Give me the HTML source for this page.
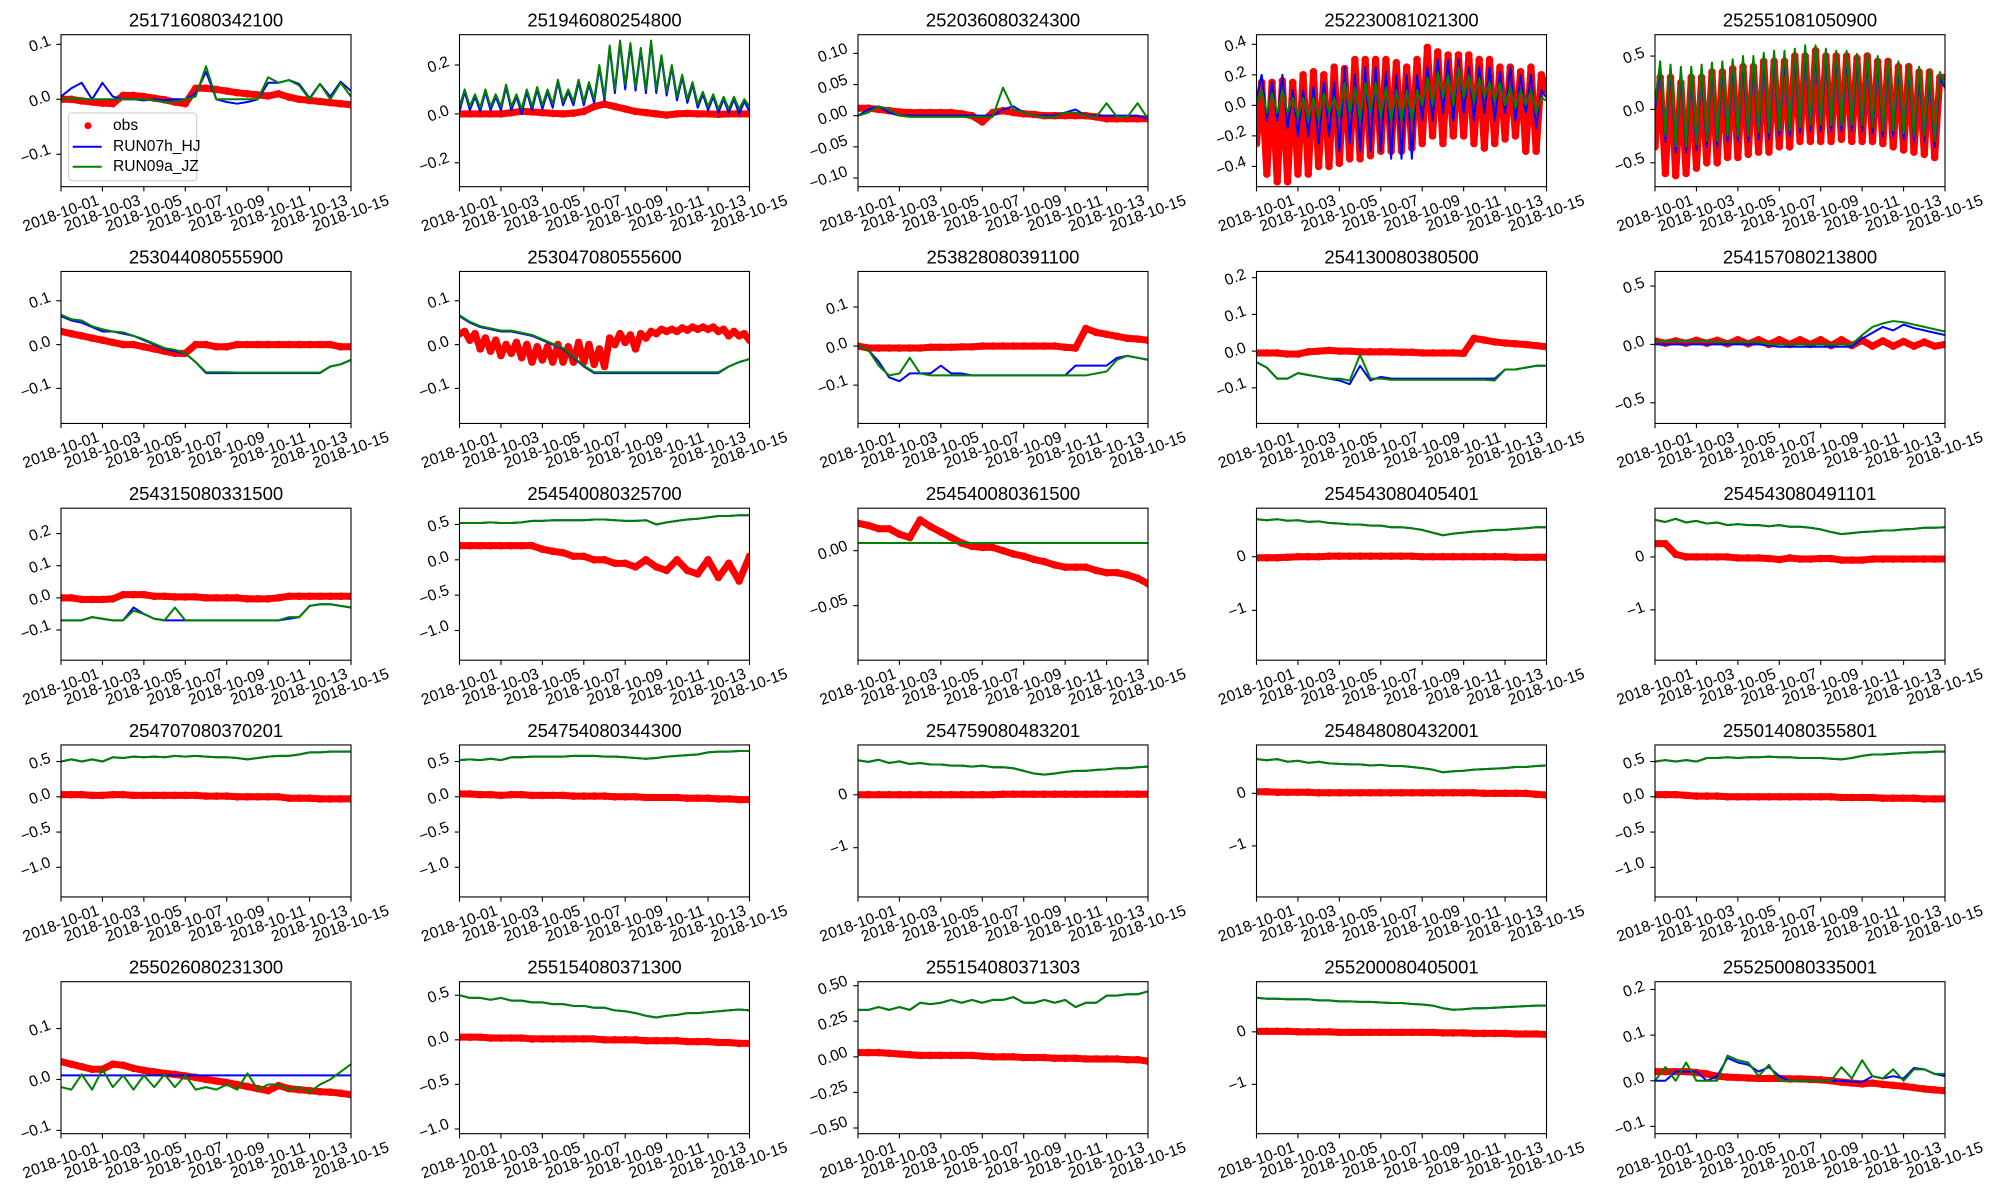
<!DOCTYPE html>
<html><head><meta charset="utf-8">
<style>
html,body{margin:0;padding:0;background:#fff;}
svg{display:block;font-family:"Liberation Sans","DejaVu Sans",sans-serif;}
</style></head>
<body>
<svg id="fig" width="2000" height="1200" viewBox="0 0 2000 1200" xmlns="http://www.w3.org/2000/svg"></svg>
<script>
const titles=["251716080342100","251946080254800","252036080324300","252230081021300","252551081050900",
"253044080555900","253047080555600","253828080391100","254130080380500","254157080213800",
"254315080331500","254540080325700","254540080361500","254543080405401","254543080491101",
"254707080370201","254754080344300","254759080483201","254848080432001","255014080355801",
"255026080231300","255154080371300","255154080371303","255200080405001","255250080335001"];
const yMins=[-0.159,-0.298,-0.114,-0.533,-0.724,-0.18,-0.18,-0.198,-0.197,-0.677,-0.194,-1.42,-0.0997,-1.93,-1.95,-1.42,-1.42,-1.93,-1.97,-1.42,-0.1065,-1.053,-0.54,-1.94,-0.116];
const yMaxs=[0.1175,0.324,0.13,0.463,0.70,0.167,0.167,0.191,0.217,0.625,0.279,0.73,0.0387,0.905,0.92,0.735,0.735,0.94,0.92,0.735,0.192,0.652,0.528,0.955,0.217];
const yTickLabels=[
["0.1","0.0","−0.1"],["0.2","0.0","−0.2"],["0.10","0.05","0.00","−0.05","−0.10"],["0.4","0.2","0.0","−0.2","−0.4"],["0.5","0.0","−0.5"],
["0.1","0.0","−0.1"],["0.1","0.0","−0.1"],["0.1","0.0","−0.1"],["0.2","0.1","0.0","−0.1"],["0.5","0.0","−0.5"],
["0.2","0.1","0.0","−0.1"],["0.5","0.0","−0.5","−1.0"],["0.00","−0.05"],["0","−1"],["0","−1"],
["0.5","0.0","−0.5","−1.0"],["0.5","0.0","−0.5","−1.0"],["0","−1"],["0","−1"],["0.5","0.0","−0.5","−1.0"],
["0.1","0.0","−0.1"],["0.5","0.0","−0.5","−1.0"],["0.50","0.25","0.00","−0.25","−0.50"],["0","−1"],["0.2","0.1","0.0","−0.1"]];
const xTickLabels=["2018-10-01","2018-10-03","2018-10-05","2018-10-07","2018-10-09","2018-10-11","2018-10-13","2018-10-15"];
const xTickDays=[0,2,4,6,8,10,12,14];
const daySpan=14;

const obsData=[
[0,0,-0.003,-0.005,-0.007,-0.008,0.007,0.007,0.005,0.002,-0.001,-0.005,-0.008,0.02,0.02,0.018,0.015,0.012,0.01,0.008,0.006,0.01,0.004,0,-0.002,-0.004,-0.006,-0.008,-0.01],
[0,0,0,0,0,0.005,0.01,0.008,0.005,0.002,0,0.003,0.01,0.03,0.04,0.03,0.02,0.01,0.005,0,-0.005,0,0.002,0,0,-0.002,0,0,0],
[0.012,0.012,0.01,0.008,0.006,0.005,0.005,0.005,0.005,0.005,0.003,0,-0.01,0.005,0.008,0.005,0.003,0.002,0,0,0,0,0,-0.002,-0.005,-0.005,-0.005,-0.005,-0.005],
[-0.25,0.15,-0.45,0.15,-0.5,0.16,-0.5,0.15,-0.45,0.2,-0.45,0.22,-0.4,0.2,-0.4,0.25,-0.38,0.24,-0.35,0.3,-0.35,0.3,-0.33,0.3,-0.3,0.3,-0.3,0.28,-0.3,0.25,-0.28,0.3,-0.25,0.38,-0.2,0.35,-0.25,0.33,-0.2,0.33,-0.2,0.33,-0.25,0.3,-0.28,0.3,-0.25,0.25,-0.22,0.25,-0.2,0.22,-0.3,0.25,-0.3,0.2,0.1],
[-0.35,0.3,-0.6,0.3,-0.62,0.25,-0.6,0.3,-0.55,0.3,-0.5,0.35,-0.5,0.35,-0.45,0.38,-0.45,0.4,-0.42,0.4,-0.4,0.45,-0.4,0.45,-0.35,0.45,-0.35,0.5,-0.3,0.5,-0.3,0.55,-0.3,0.5,-0.3,0.5,-0.28,0.5,-0.3,0.48,-0.3,0.5,-0.3,0.45,-0.32,0.45,-0.35,0.4,-0.38,0.4,-0.4,0.35,-0.42,0.35,-0.45,0.3,0.3],
[0.03,0.025,0.02,0.015,0.01,0.005,0,0,-0.005,-0.01,-0.015,-0.02,-0.02,0,0,-0.005,-0.005,0,0,0,0,0,0,0,0,0,0,-0.005,-0.005],
[0.025,0.03,0.01,0.025,-0.01,0.015,-0.015,0.01,-0.025,0,-0.02,0.005,-0.03,0,-0.04,-0.005,-0.035,-0.005,-0.04,0,-0.04,-0.005,-0.04,0.005,-0.04,0,-0.045,-0.01,-0.05,0.015,0,0.025,0.005,0.022,-0.01,0.025,0.015,0.03,0.025,0.035,0.03,0.035,0.03,0.038,0.033,0.04,0.035,0.04,0.035,0.04,0.03,0.035,0.02,0.03,0.02,0.025,0.01],
[0,-0.005,-0.005,-0.005,-0.005,-0.005,-0.005,-0.003,-0.003,-0.003,-0.002,-0.002,0,0,0,0,0,0,0,0,-0.003,-0.005,0.045,0.035,0.03,0.025,0.02,0.018,0.015],
[-0.005,-0.005,-0.005,-0.008,-0.008,-0.002,0,0.002,0,0,-0.002,-0.002,-0.002,-0.002,-0.003,-0.003,-0.005,-0.005,-0.005,-0.005,-0.006,0.035,0.03,0.025,0.022,0.02,0.018,0.015,0.012],
[0.03,0.01,0.03,0.01,0.035,0.01,0.035,0.005,0.04,0.005,0.04,0,0.04,0,0.04,0,0.04,-0.01,0.04,-0.01,0.035,-0.015,0.03,-0.015,0.025,-0.015,0.02,-0.015,0],
[0,0,-0.005,-0.005,-0.005,-0.003,0.01,0.01,0.01,0.005,0.005,0.003,0.003,0.003,0,0,0,0,-0.003,-0.003,-0.003,0,0.005,0.005,0.005,0.005,0.005,0.005,0.005],
[0.2,0.2,0.2,0.2,0.2,0.2,0.2,0.2,0.15,0.12,0.1,0.05,0.05,0,0,-0.05,-0.05,-0.1,0,-0.1,-0.15,0,-0.15,-0.2,0,-0.25,-0.05,-0.3,0.05],
[0.025,0.023,0.02,0.02,0.015,0.012,0.028,0.022,0.017,0.012,0.007,0.004,0.003,0.003,0,-0.003,-0.005,-0.008,-0.01,-0.013,-0.015,-0.015,-0.015,-0.018,-0.02,-0.02,-0.022,-0.025,-0.03],
[-0.02,-0.02,-0.02,-0.01,0,0,0,0.01,0.01,0.01,0.01,0.01,0.01,0.01,0.01,0.01,0,0,0,0,0,0,0,0,0,-0.01,-0.01,-0.01,-0.01],
[0.25,0.25,0.05,0,0,0,0,0,-0.02,-0.02,-0.02,-0.03,-0.05,-0.02,-0.04,-0.04,-0.03,-0.03,-0.06,-0.06,-0.06,-0.04,-0.04,-0.04,-0.04,-0.04,-0.04,-0.04,-0.04],
[0.03,0.03,0.03,0.02,0.02,0.03,0.03,0.02,0.02,0.02,0.02,0.02,0.02,0.02,0.01,0.01,0.01,0,0,0,0,0,-0.02,-0.02,-0.02,-0.03,-0.03,-0.03,-0.03],
[0.04,0.04,0.03,0.03,0.02,0.03,0.03,0.02,0.02,0.02,0.02,0.01,0.01,0.01,0.01,0,0,0,-0.01,-0.01,-0.01,-0.01,-0.02,-0.02,-0.02,-0.03,-0.03,-0.04,-0.04],
[0,0,0,0,0,0,0,0,0,0,0,0,0,0,0.01,0.01,0.01,0.01,0.01,0.01,0.01,0.01,0.01,0.01,0.01,0.01,0.01,0.01,0.01],
[0.03,0.03,0.02,0.02,0.02,0.02,0.01,0.01,0.01,0.01,0.01,0.01,0.01,0.01,0.01,0.01,0.01,0.01,0.01,0.01,0.01,0.01,0,0,0,0,0,-0.02,-0.03],
[0.03,0.03,0.03,0.02,0.01,0.01,0.01,0,0,0,0,0,0,0,0,0,0,0,-0.01,-0.01,-0.01,-0.01,-0.02,-0.02,-0.02,-0.02,-0.03,-0.03,-0.03],
[0.035,0.03,0.025,0.02,0.02,0.03,0.028,0.022,0.018,0.015,0.012,0.01,0.007,0.004,0,-0.003,-0.006,-0.01,-0.014,-0.018,-0.022,-0.012,-0.018,-0.02,-0.022,-0.024,-0.025,-0.027,-0.03],
[0.03,0.03,0.03,0.02,0.02,0.02,0.02,0.01,0.01,0.01,0.01,0.01,0.01,0.01,0,0,0,0,-0.01,-0.01,-0.01,-0.01,-0.02,-0.02,-0.02,-0.03,-0.03,-0.04,-0.04],
[0.03,0.03,0.03,0.025,0.02,0.015,0.01,0.01,0.01,0.01,0.01,0.01,0.005,0,0,0,-0.005,-0.005,-0.005,-0.01,-0.01,-0.01,-0.015,-0.015,-0.015,-0.015,-0.02,-0.02,-0.03],
[0.01,0.01,0.01,0.01,0,0,0,0,-0.01,-0.01,-0.01,-0.01,-0.01,-0.01,-0.01,-0.01,-0.01,-0.01,-0.02,-0.02,-0.02,-0.03,-0.03,-0.03,-0.03,-0.04,-0.04,-0.04,-0.05],
[0.02,0.02,0.02,0.02,0.018,0.015,0.01,0.008,0.007,0.006,0.005,0.005,0.005,0.004,0.004,0.003,0.002,0,-0.003,-0.005,-0.007,-0.005,-0.008,-0.01,-0.012,-0.015,-0.018,-0.02,-0.022]];

const run09Data=[
[0,0.002,0,0,0,0,0,0,0,-0.002,-0.005,-0.005,0,0.005,0.06,0,0,0,0,0,0.04,0.03,0.035,0.025,0,0.028,0,0.03,0.005],
[0.03,0.1,0.03,0.08,0.025,0.1,0.03,0.08,0.03,0.12,0.03,0.08,0.02,0.1,0.03,0.11,0.035,0.1,0.04,0.14,0.05,0.1,0.05,0.14,0.05,0.13,0.06,0.2,0.07,0.28,0.1,0.3,0.12,0.29,0.11,0.27,0.1,0.3,0.1,0.24,0.09,0.2,0.07,0.16,0.06,0.13,0.04,0.09,0.03,0.08,0.02,0.07,0.02,0.07,0.02,0.06,0.03],
[0,0.005,0.015,0.01,0,-0.002,-0.002,-0.002,-0.002,-0.002,-0.002,-0.002,-0.002,-0.002,0.045,0.01,0.005,0,-0.002,-0.002,0.005,0.005,0,-0.002,0.02,-0.002,-0.002,0.02,-0.005],
[0,0.1,-0.05,0.08,-0.05,0.1,-0.05,0.05,-0.08,0.05,-0.1,0.05,-0.1,0.08,-0.05,0.05,-0.08,0.15,-0.05,0.12,-0.1,0.15,-0.05,0.15,-0.08,0.12,-0.1,0.1,-0.1,0.1,-0.1,0.1,0,0.18,0,0.22,0.05,0.2,0,0.25,0.05,0.2,0.02,0.18,0.05,0.15,0.02,0.15,0,0.12,-0.02,0.1,0,0.1,-0.05,0.05,0.03],
[0.05,0.45,-0.25,0.42,-0.35,0.4,-0.35,0.4,-0.33,0.42,-0.3,0.44,-0.3,0.45,-0.25,0.47,-0.25,0.5,-0.25,0.5,-0.22,0.53,-0.22,0.55,-0.2,0.55,-0.2,0.57,-0.17,0.6,-0.15,0.6,-0.15,0.57,-0.15,0.55,-0.15,0.55,-0.15,0.52,-0.15,0.52,-0.17,0.5,-0.2,0.47,-0.2,0.45,-0.23,0.42,-0.25,0.4,-0.25,0.37,-0.3,0.35,0.22],
[0.068,0.058,0.055,0.042,0.035,0.03,0.028,0.02,0.012,0.002,-0.008,-0.012,-0.02,-0.04,-0.063,-0.063,-0.063,-0.064,-0.064,-0.064,-0.064,-0.064,-0.064,-0.064,-0.064,-0.064,-0.05,-0.045,-0.035],
[0.067,0.052,0.042,0.037,0.032,0.032,0.027,0.022,0.012,0.002,-0.008,-0.028,-0.048,-0.063,-0.063,-0.063,-0.063,-0.063,-0.063,-0.063,-0.063,-0.063,-0.063,-0.063,-0.063,-0.063,-0.05,-0.04,-0.033],
[0,-0.01,-0.05,-0.075,-0.07,-0.03,-0.07,-0.075,-0.075,-0.075,-0.075,-0.075,-0.075,-0.075,-0.075,-0.075,-0.075,-0.075,-0.075,-0.075,-0.075,-0.075,-0.075,-0.07,-0.065,-0.035,-0.025,-0.03,-0.035],
[-0.03,-0.045,-0.075,-0.075,-0.06,-0.065,-0.07,-0.075,-0.075,-0.08,-0.01,-0.075,-0.075,-0.078,-0.078,-0.078,-0.078,-0.078,-0.078,-0.078,-0.078,-0.078,-0.078,-0.08,-0.05,-0.05,-0.045,-0.04,-0.04],
[0.02,0.03,0.03,0.03,0.03,0.03,0.02,0.02,0.02,0.02,0.02,0,0,0,0,0,0,0,0,0,0.08,0.15,0.18,0.2,0.19,0.17,0.15,0.13,0.11],
[-0.07,-0.07,-0.07,-0.06,-0.065,-0.07,-0.07,-0.04,-0.05,-0.065,-0.07,-0.03,-0.07,-0.07,-0.07,-0.07,-0.07,-0.07,-0.07,-0.07,-0.07,-0.07,-0.06,-0.06,-0.025,-0.02,-0.02,-0.025,-0.03],
[0.52,0.52,0.52,0.53,0.52,0.52,0.53,0.55,0.55,0.56,0.56,0.56,0.56,0.57,0.57,0.56,0.55,0.55,0.56,0.5,0.53,0.55,0.57,0.58,0.6,0.62,0.62,0.63,0.63],
[0.007,0.007],
[0.7,0.68,0.7,0.67,0.68,0.65,0.66,0.63,0.62,0.6,0.6,0.58,0.58,0.55,0.55,0.53,0.5,0.45,0.4,0.43,0.45,0.47,0.48,0.5,0.5,0.52,0.53,0.55,0.55],
[0.7,0.66,0.72,0.65,0.68,0.63,0.65,0.6,0.62,0.6,0.6,0.58,0.6,0.57,0.57,0.55,0.52,0.47,0.43,0.45,0.47,0.48,0.5,0.5,0.52,0.53,0.55,0.55,0.56],
[0.5,0.53,0.5,0.53,0.5,0.56,0.55,0.57,0.56,0.57,0.56,0.58,0.57,0.58,0.57,0.56,0.56,0.55,0.53,0.55,0.57,0.58,0.58,0.6,0.63,0.63,0.64,0.64,0.64],
[0.52,0.53,0.52,0.54,0.52,0.56,0.56,0.57,0.57,0.57,0.57,0.58,0.58,0.58,0.57,0.57,0.56,0.55,0.54,0.55,0.57,0.58,0.59,0.6,0.63,0.64,0.64,0.65,0.65],
[0.65,0.62,0.66,0.6,0.63,0.58,0.6,0.57,0.57,0.55,0.55,0.53,0.55,0.52,0.52,0.5,0.45,0.4,0.38,0.4,0.43,0.45,0.45,0.47,0.48,0.5,0.5,0.52,0.53],
[0.65,0.63,0.65,0.6,0.62,0.58,0.6,0.57,0.56,0.55,0.55,0.53,0.54,0.52,0.52,0.5,0.48,0.45,0.4,0.42,0.43,0.45,0.46,0.47,0.48,0.5,0.5,0.52,0.53],
[0.5,0.52,0.5,0.52,0.5,0.55,0.55,0.56,0.55,0.56,0.56,0.57,0.56,0.56,0.55,0.55,0.55,0.54,0.53,0.55,0.58,0.6,0.6,0.61,0.62,0.63,0.63,0.64,0.64],
[-0.015,-0.02,0.01,-0.02,0.02,-0.015,0.008,-0.02,0.008,-0.015,0.01,-0.015,0.008,-0.02,-0.015,-0.02,-0.01,-0.02,0.012,-0.02,-0.01,-0.01,-0.02,-0.015,-0.025,-0.01,0,0.015,0.03],
[0.5,0.47,0.47,0.45,0.47,0.44,0.44,0.42,0.42,0.4,0.4,0.38,0.38,0.36,0.36,0.33,0.32,0.3,0.27,0.25,0.27,0.28,0.3,0.3,0.31,0.32,0.33,0.34,0.33],
[0.33,0.33,0.35,0.33,0.35,0.33,0.38,0.37,0.38,0.4,0.38,0.4,0.38,0.4,0.4,0.42,0.38,0.38,0.4,0.38,0.4,0.35,0.38,0.38,0.43,0.43,0.44,0.44,0.46],
[0.65,0.63,0.63,0.62,0.62,0.62,0.6,0.6,0.58,0.58,0.57,0.57,0.56,0.55,0.55,0.53,0.52,0.5,0.45,0.42,0.43,0.45,0.45,0.46,0.47,0.48,0.49,0.5,0.5],
[0,0.03,0,0.04,0,0,0,0.055,0.045,0.04,0.01,0.035,0,0,0,0,0,0,0.03,0.005,0.045,0.01,0.005,0.025,0,0.025,0.025,0.015,0.015]];

const run07Data=[
[0.005,0.02,0.03,0,0.03,0.005,0,0,-0.002,0,-0.002,0,0,0.01,0.05,0,-0.005,-0.008,-0.005,0,0.03,0.03,0.035,0.028,0.002,0.028,0.005,0.032,0.015],
[0.01,0.09,0.015,0.07,0.01,0.09,0.015,0.07,0.015,0.11,0.015,0.07,0,0.09,0.015,0.1,0.02,0.09,0.025,0.13,0.035,0.09,0.035,0.13,0.035,0.12,0.045,0.19,0.055,0.27,0.085,0.29,0.1,0.28,0.095,0.26,0.085,0.29,0.085,0.23,0.075,0.19,0.055,0.15,0.045,0.12,0.025,0.08,0.015,0.07,0.005,0.06,0.005,0.06,0,0.05,0.01],
[0,0.01,0.015,0.005,0,0,0,0,0,0,0,0,0,0,0.01,0.015,0.005,0,0,0,0.005,0.01,0,0,0,0,0,0,-0.005],
[0.05,0.2,-0.1,0.15,-0.1,0.2,-0.15,0.1,-0.2,0.1,-0.2,0.12,-0.25,0.15,-0.2,0.15,-0.3,0.25,-0.25,0.2,-0.3,0.25,-0.3,0.25,-0.3,0.22,-0.35,0.2,-0.35,0.2,-0.35,0.2,-0.1,0.25,-0.1,0.3,-0.05,0.3,-0.1,0.3,-0.05,0.25,-0.1,0.25,-0.05,0.25,-0.1,0.22,-0.05,0.25,-0.1,0.2,-0.05,0.2,-0.15,0.1,0.05],
[0,0.4,-0.3,0.38,-0.4,0.35,-0.4,0.35,-0.38,0.38,-0.35,0.4,-0.35,0.4,-0.3,0.42,-0.3,0.45,-0.3,0.45,-0.28,0.48,-0.28,0.5,-0.25,0.5,-0.25,0.52,-0.22,0.55,-0.2,0.55,-0.2,0.52,-0.2,0.5,-0.2,0.5,-0.2,0.48,-0.2,0.48,-0.22,0.45,-0.25,0.42,-0.25,0.4,-0.28,0.38,-0.3,0.35,-0.3,0.32,-0.35,0.3,0.2],
[0.065,0.055,0.05,0.04,0.03,0.03,0.025,0.02,0.01,0,-0.01,-0.015,-0.02,-0.04,-0.065,-0.065,-0.065,-0.065,-0.065,-0.065,-0.065,-0.065,-0.065,-0.065,-0.065,-0.065,-0.05,-0.045,-0.035],
[0.065,0.05,0.04,0.035,0.03,0.03,0.025,0.02,0.01,0,-0.01,-0.03,-0.05,-0.065,-0.065,-0.065,-0.065,-0.065,-0.065,-0.065,-0.065,-0.065,-0.065,-0.065,-0.065,-0.065,-0.05,-0.04,-0.033],
[0,-0.01,-0.04,-0.08,-0.09,-0.07,-0.07,-0.07,-0.05,-0.07,-0.07,-0.075,-0.075,-0.075,-0.075,-0.075,-0.075,-0.075,-0.075,-0.075,-0.075,-0.05,-0.05,-0.05,-0.05,-0.03,-0.025,-0.03,-0.035],
[-0.03,-0.045,-0.075,-0.075,-0.06,-0.065,-0.07,-0.075,-0.08,-0.09,-0.04,-0.08,-0.07,-0.075,-0.075,-0.075,-0.075,-0.075,-0.075,-0.075,-0.075,-0.075,-0.075,-0.075,-0.05,-0.05,-0.045,-0.04,-0.04],
[0,0,0,0,0,0,0,0,0,0,0,-0.01,-0.02,-0.02,-0.02,-0.02,-0.02,-0.02,-0.02,-0.02,0.05,0.1,0.15,0.12,0.17,0.14,0.12,0.1,0.08],
[-0.07,-0.07,-0.07,-0.06,-0.065,-0.07,-0.07,-0.03,-0.05,-0.065,-0.07,-0.07,-0.07,-0.07,-0.07,-0.07,-0.07,-0.07,-0.07,-0.07,-0.07,-0.07,-0.065,-0.06,-0.025,-0.02,-0.02,-0.025,-0.03],
null,[0.007,0.007],null,null,null,null,null,null,null,
[0.008,0.008],
null,null,null,
[0,0,0.02,0.02,0.02,0,0.01,0.05,0.04,0.035,0.02,0.03,0.01,0,0,0,0,0,0,-0.002,-0.003,0.01,0.005,0.01,0.005,0.028,0.025,0.015,0.01]];
// panels where the two model runs coincide share the same values
for(let i=0;i<run07Data.length;i++){ if(run07Data[i]===null) run07Data[i]=run09Data[i]; }

const NS="http://www.w3.org/2000/svg";
const svg=document.getElementById('fig');
function mk(tag,attrs,parent){const e=document.createElementNS(NS,tag);for(const k in attrs)e.setAttribute(k,attrs[k]);(parent||svg).appendChild(e);return e;}
const FS=15.6, AX_W=290, AX_H=152, LEFT0=61, TOP0=34.7, DX=398.5, DY=236.75;
function textW(s){let w=0;for(const c of s){if(c==='.')w+=0.278;else if(c==='−'||c==='-')w+=(c==='−'?0.584:0.333);else w+=0.556;}return w*FS;}

for(let p=0;p<25;p++){
  const col=p%5,row=Math.floor(p/5);
  const L=LEFT0+col*DX,T=TOP0+row*DY,R=L+AX_W,B=T+AX_H;
  const y0=yMins[p],y1=yMaxs[p];
  const xs=d=>L+d/daySpan*AX_W;
  const ys=v=>B-(v-y0)/(y1-y0)*AX_H;
  const g=mk('g',{});
  
  
  const clipId='clip'+p;
  const cp=mk('clipPath',{id:clipId},g);mk('rect',{x:L,y:T,width:AX_W,height:AX_H},cp);
  const plot=mk('g',{'clip-path':'url(#'+clipId+')'},g);
  
  
  const pts=arr=>arr.map((v,i)=>[xs(i*daySpan/(arr.length-1)),ys(v)]);
  const ob=pts(obsData[p]);
  const obsLine=mk('polyline',{points:ob.map(q=>q.join(',')).join(' '),fill:'none',stroke:'#ff0000','stroke-width':7,'stroke-linejoin':'round','stroke-linecap':'round'},plot);
  
  
  ob.forEach(q=>{const c=mk('circle',{cx:q[0],cy:q[1],r:3.8,fill:'#ff0000'},plot);
    
    });
  const b=mk('polyline',{points:pts(run07Data[p]).map(q=>q.join(',')).join(' '),fill:'none',stroke:'#0000ff','stroke-width':2,'stroke-linejoin':'round'},plot);
  
  
  const gr=mk('polyline',{points:pts(run09Data[p]).map(q=>q.join(',')).join(' '),fill:'none',stroke:'#008000','stroke-width':2,'stroke-linejoin':'round'},plot);
  
  
  const fr=mk('rect',{x:L,y:T,width:AX_W,height:AX_H,fill:'none',stroke:'#000','stroke-width':1.1},g);
  
  
  const tt=mk('text',{x:L+AX_W/2,y:T-8,'text-anchor':'middle','font-size':18.5,fill:'#000'},g);
  tt.textContent=titles[p];
  
  
  xTickDays.forEach((d,i)=>{
    const x=xs(d);
    mk('line',{x1:x,y1:B,x2:x,y2:B+4.7,stroke:'#000','stroke-width':1.1},g);
    const t=mk('text',{'text-anchor':'middle','dominant-baseline':'central','font-size':FS,fill:'#000',transform:'translate('+x+','+(B+27)+') rotate(-20)'},g);
    t.textContent=xTickLabels[i];
    
    
  });
  yTickLabels[p].forEach(lbl=>{
    const v=parseFloat(lbl.replace('−','-'));
    const y=ys(v);
    mk('line',{x1:L-4.7,y1:y,x2:L,y2:y,stroke:'#000','stroke-width':1.1},g);
    const w=textW(lbl);
    const bw=w*0.94+FS*0.37;
    const cx=L-8-bw/2;
    const t=mk('text',{'text-anchor':'middle','dominant-baseline':'central','font-size':FS,fill:'#000',transform:'translate('+cx+','+y+') rotate(-20)'},g);
    t.textContent=lbl;
    
    
  });
  if(p===0){
    const lg=mk('g',{},g);
    
    
    mk('rect',{x:68.7,y:113,width:128,height:67.7,rx:3,fill:'#fff','fill-opacity':0.8,stroke:'#cccccc','stroke-width':1},lg);
    const entries=[['obs','obs'],['RUN07h_HJ','#0000ff'],['RUN09a_JZ','#008000']];
    const ey=[125.7,146.7,166.7];
    entries.forEach((e,i)=>{
      const eg=mk('g',{},lg);
      
      
      if(e[1]==='obs') mk('circle',{cx:88,cy:ey[i],r:3.5,fill:'#ff0000'},eg);
      else mk('line',{x1:72.7,y1:ey[i],x2:101.7,y2:ey[i],stroke:e[1],'stroke-width':2},eg);
      const t=mk('text',{x:113,y:ey[i],'dominant-baseline':'central','font-size':FS,fill:'#000'},eg);
      t.textContent=e[0];
    });
  }
}
</script>
</body></html>
